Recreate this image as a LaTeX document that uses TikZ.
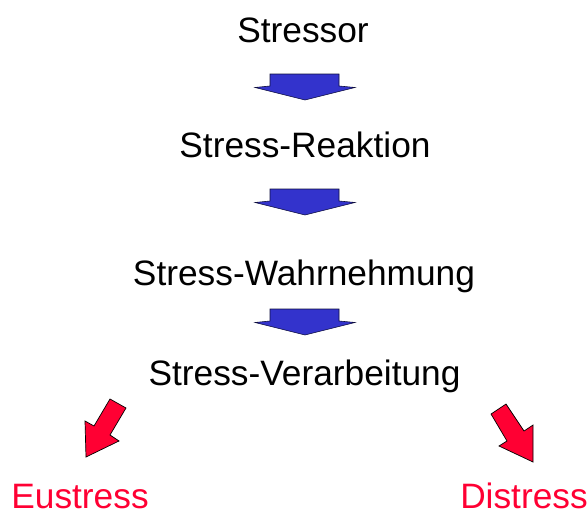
\documentclass[tikz,border=0pt]{standalone}
\usepackage{fontspec}
\setmainfont{Liberation Sans}
\definecolor{flowblue}{RGB}{51,51,204}
\definecolor{outred}{RGB}{255,0,51}
\begin{document}
\begin{tikzpicture}[x=1pt,y=-1pt,
  label/.style={anchor=base,inner sep=0pt,font=\fontsize{35.3}{42}\selectfont},
  outcome/.style={label,text=outred},
  downarrow/.style={fill=flowblue,draw=black!70!flowblue,line width=0.6pt,line join=miter},
  sidearrow/.style={fill=outred,draw=black,line width=0.7pt,line join=miter},
  pics/blockdown/.style={code={
    \draw[downarrow] (-35,0) -- (34,0) -- (34,12) -- (50,13.5) -- (0,26)
      -- (-50,13.5) -- (-35,12) -- cycle;}}]
\useasboundingbox (0,0) rectangle (587,514);

% stages of the stress process
\node[label] (stressor) at (303,42) {Stressor};
\node[label] (reaktion) at (305,157) {Stress-Reaktion};
\node[label] (wahrnehmung) at (304,285) {Stress-Wahrnehmung};
\node[label] (verarbeitung) at (304.5,385) {Stress-Verarbeitung};
\node[outcome] (eustress) at (80,508) {Eustress};
\node[outcome] (distress) at (524,508) {Distress};

% block arrows between the stages
\pic at (305,74) {blockdown};
\pic at (305,189) {blockdown};
\pic at (305,309) {blockdown};

% outcome arrows
\draw[sidearrow] (86,457) -- (85,421) -- (94,426) -- (110,399) -- (126,408)
  -- (110,435) -- (119,441) -- cycle;
\draw[sidearrow] (533,462) -- (533,425) -- (524,431) -- (506,404) -- (491,414)
  -- (507,441) -- (499,446) -- cycle;
\end{tikzpicture}
\end{document}
